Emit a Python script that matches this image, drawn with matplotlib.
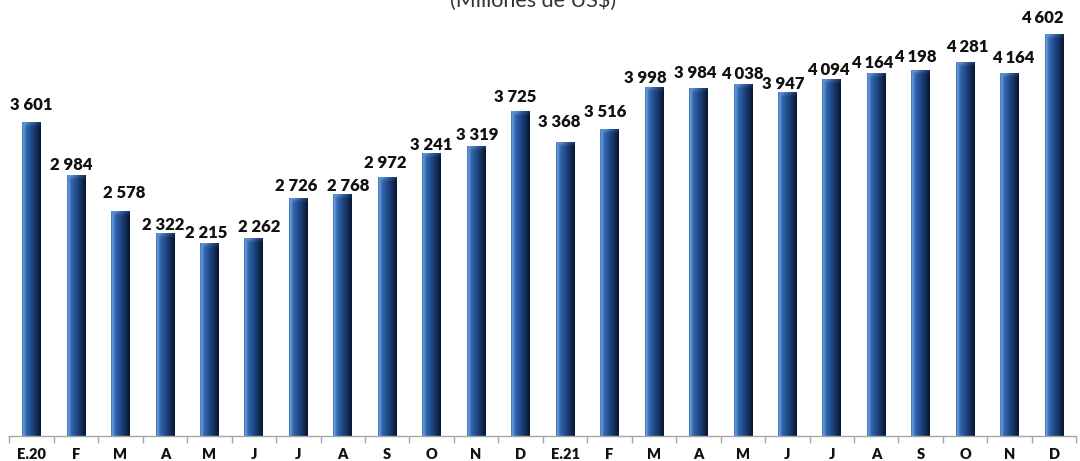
import numpy as np
import matplotlib
matplotlib.use("Agg")
import matplotlib.pyplot as plt
from matplotlib.colors import LinearSegmentedColormap

# ---- data ----
categories = ["E.20", "F", "M", "A", "M", "J", "J", "A", "S", "O", "N", "D",
              "E.21", "F", "M", "A", "M", "J", "J", "A", "S", "O", "N", "D"]
values = [3601, 2984, 2578, 2322, 2215, 2262, 2726, 2768, 2972, 3241, 3319, 3725,
          3368, 3516, 3998, 3984, 4038, 3947, 4094, 4164, 4198, 4281, 4164, 4602]
title = "(Millones de US$)"

# label nudges in pixels (layout only): horizontal shift, gap above bar
label_dx = [0, -4.7, 4, -1.8, -2.8, 5.7, -2.5, 5.9, -1.6, 0, 0.7, -5,
            -6, -3.9, -8.3, -3.6, -0.8, -4.5, -3.2, -4.2, -5.1, 2, 4, -12]
label_gap = [11.6, 5, 13, 3.4, 4.7, 6.7, 7, 3.6, 8.3, 3.3, 6.7, 9,
             15, 12.3, 4.3, 10, 5, 3, 3.6, 4.2, 7.8, 10.4, 10, 11]

W, H, DPI = 1080, 461, 100
fig = plt.figure(figsize=(W / DPI, H / DPI), dpi=DPI)
fig.patch.set_facecolor("white")

ax_left, ax_right = 9.3, 1076.3
ax_bottom_px = 435.7
ax_top_px = -0.3
ax = fig.add_axes([ax_left / W, (H - ax_bottom_px) / H,
                   (ax_right - ax_left) / W, (ax_bottom_px - ax_top_px) / H])
ax.set_facecolor("none")

YMAX = 5000
x = np.arange(len(values))
bars = ax.bar(x, values, width=0.42, facecolor="none", edgecolor="none", zorder=2)

px_per_unit = (ax_bottom_px - ax_top_px) / YMAX
cap_units = 5.0 / px_per_unit

body_cmap = LinearSegmentedColormap.from_list(
    "body", [(0.0, "#3a6cb0"), (0.08, "#6b9fe0"), (0.22, "#3468b0"),
             (0.5, "#1f4a88"), (0.8, "#112b55"), (1.0, "#07142a")])
grad = np.linspace(0, 1, 256).reshape(1, -1)

# top bevel: horizontal colour gradient fading downward
cap_cmap = LinearSegmentedColormap.from_list(
    "cap", [(0.0, "#4f80c4"), (0.2, "#6f9cdc"), (0.55, "#3c68a8"),
            (1.0, "#1a355f")])
cap_rgb = cap_cmap(np.linspace(0, 1, 64))[:, :3]
fade = np.linspace(0.0, 0.9, 16)[:, None]
cap_rgba = np.zeros((16, 64, 4))
cap_rgba[:, :, :3] = cap_rgb[None, :, :]
cap_rgba[:, :, 3] = fade

for b in bars:
    x0 = b.get_x()
    x1 = x0 + b.get_width()
    h = b.get_height()
    im = ax.imshow(grad, cmap=body_cmap, aspect="auto", extent=(x0, x1, 0, h),
                   origin="lower", zorder=2, interpolation="bilinear")
    im.set_clip_path(b)
    im2 = ax.imshow(cap_rgba, aspect="auto",
                    extent=(x0, x1, h - cap_units, h), origin="lower",
                    zorder=3, interpolation="bilinear")
    im2.set_clip_path(b)

for i, (b, v) in enumerate(zip(bars, values)):
    label = f"{v:,}".replace(",", " ")
    ax.annotate(label, (b.get_x() + b.get_width() / 2, v),
                xytext=(label_dx[i] * 72 / DPI, (label_gap[i] - 3) * 72 / DPI),
                textcoords="offset points", ha="center", va="bottom",
                fontsize=12, fontweight="heavy", family=["Lato", "DejaVu Sans"],
                color="#111111", zorder=5)

ax.set_xlim(-0.5, len(values) - 0.5)
ax.set_ylim(0, YMAX)

for s in ["top", "right", "left"]:
    ax.spines[s].set_visible(False)
ax.spines["bottom"].set_color("#a6a6a6")
ax.spines["bottom"].set_linewidth(1.0)
ax.set_yticks([])
ax.set_xticks(x)
ax.set_xticklabels(categories, fontsize=10.5, fontweight="heavy",
                   family=["Lato", "DejaVu Sans"], color="#111111")
ax.tick_params(axis="x", which="major", length=0, pad=9)
ax.set_xticks(np.arange(-0.5, len(values), 1.0), minor=True)
ax.tick_params(axis="x", which="minor", length=5, color="#a6a6a6", width=1)

fig.text(533 / W, 1 - 7 / H, title, ha="center", va="baseline",
         fontsize=15.5, family=["Lato", "DejaVu Sans"], color="#333333")

fig.savefig("out.png", dpi=DPI)
